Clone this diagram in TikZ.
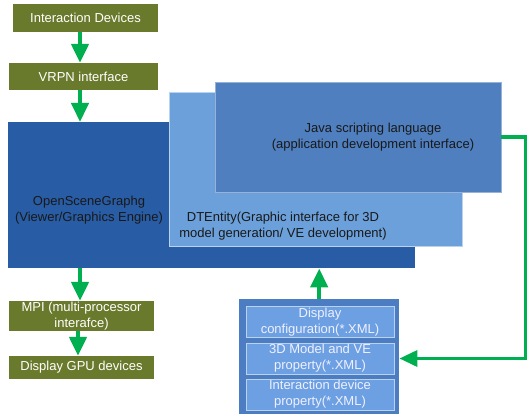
\documentclass[tikz,border=0pt]{standalone}
\usepackage{fontspec}
\setmainfont{Liberation Sans}
\usepackage{tikz}
\usetikzlibrary{arrows.meta}
\usetikzlibrary{calc}

\definecolor{olive}{RGB}{106,122,44}
\definecolor{osgblue}{RGB}{40,92,165}
\definecolor{dteblue}{RGB}{108,160,218}
\definecolor{javablue}{RGB}{80,127,192}
\definecolor{stackblue}{RGB}{76,125,195}
\definecolor{cellblue}{RGB}{108,160,226}
\definecolor{cellrim}{RGB}{185,210,238}
\definecolor{flowgreen}{RGB}{0,176,80}
\definecolor{darktext}{RGB}{25,25,25}

\begin{document}
\begin{tikzpicture}[x=1pt,y=-1pt,font=\fontsize{13}{16}\selectfont]
    \tikzstyle{layer}=[
      rectangle,
      anchor=north west,
      inner sep=0,
    ]
    \tikzstyle{olivebox}=[
      rectangle,
      fill=olive,
      text=white,
      align=center,
      inner sep=0,
    ]
    \tikzstyle{cell}=[
      rectangle,
      fill=cellblue,
      draw=cellrim,
      thin,
      text=white!94!blue,
      align=center,
      inner sep=0,
      minimum width=148,
      minimum height=31,
    ]
    \tikzstyle{txt}=[align=center,text=darktext,inner sep=0]
    \tikzstyle{flow}=[line width=4.5pt,draw=flowgreen,-{Triangle[width=17pt,length=19pt]}]
    \tikzstyle{link}=[line width=3.5pt,draw=flowgreen,-{Triangle[width=16pt,length=18pt]}]

    \useasboundingbox (0,0) rectangle (530,417);

    % left column
    \node[olivebox,minimum width=145,minimum height=28] (idev) at (85.5,18) {Interaction Devices};
    \node[olivebox,minimum width=149,minimum height=27] (vrpn) at (83.5,76.5) {VRPN interface};

    % stacked layers
    \node[layer,fill=osgblue,minimum width=407,minimum height=146] (osg) at (8,122) {};
    \node[layer,fill=dteblue,draw=cellrim,thin,minimum width=293,minimum height=154] (dte) at (169,92) {};
    \node[layer,fill=javablue,draw=javablue!60!white,thin,minimum width=286,minimum height=110] (java) at (215,82) {};

    \node[txt] (osgtxt) at (89,210) {OpenSceneGraphg\\(Viewer/Graphics Engine)};
    \node[txt] (dtetxt) at (283,226.5) {DTEntity(Graphic interface for 3D\\model generation/ VE development)};
    \node[txt] (javatxt) at (373,137) {Java scripting language\\(application development interface)};

    \node[olivebox,minimum width=145,minimum height=30] (mpi) at (81.5,316) {MPI (multi-processor\\interafce)};
    \node[olivebox,minimum width=145,minimum height=23] (gpu) at (81.5,367.5) {Display GPU devices};

    % xml files
    \node[layer,fill=stackblue,minimum width=160,minimum height=115] (stack) at (239,299) {};
    \node[cell] (cfg1) at (320,322) {Display\\configuration(*.XML)};
    \node[cell] (cfg2) at (320,358.5) {3D Model and VE\\property(*.XML)};
    \node[cell] (cfg3) at (320,394.5) {Interaction device\\property(*.XML)};

    \coordinate (lx) at (80,0);
    \coordinate (mx) at (78,0);

    \draw[flow] (idev.south -| lx) -- (vrpn.north -| lx);
    \draw[flow] (vrpn.south -| lx) -- (osg.north -| lx);
    \draw[flow] (osg.south -| lx) -- (mpi.north -| lx);
    \draw[flow] (mpi.south -| mx) -- (gpu.north -| mx);
    \draw[flow] (stack.north) -- (osg.south -| stack.north);
    \draw[link] (java.east) -- ++(24,0) |- (cfg2.east -| stack.east);
  \end{tikzpicture}
\end{document}
